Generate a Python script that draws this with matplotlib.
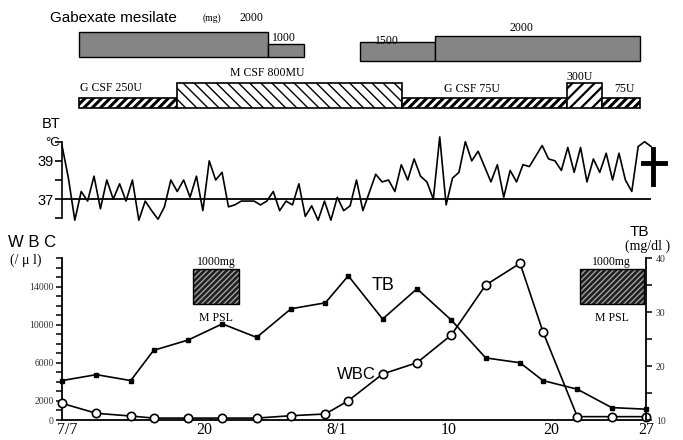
import numpy as np
import matplotlib
matplotlib.use("Agg")
import matplotlib.pyplot as plt
from matplotlib.patches import Rectangle
from matplotlib.lines import Line2D

W, H = 683, 440
SERIF = "Liberation Serif"
SANS = "Liberation Sans"

# treatment schedule, days from 7/7
gab_start = [1.5, 18.0, 26.0, 32.6]
gab_end = [18.0, 21.1, 32.6, 50.5]
gab_dose = [2000, 1000, 1500, 2000]

csf_start = [1.5, 10.0, 29.7, 44.1, 47.2]
csf_end = [10.0, 29.7, 44.1, 47.2, 50.5]
csf_labels = ["G CSF 250U", "M CSF 800MU", "G CSF 75U", "300U", "75U"]
csf_high = [False, True, False, True, False]

# body temperature (deg C)
bt = [39.8, 38.1, 35.9, 37.4, 36.9, 38.2, 36.5, 38.0, 37.0, 37.8, 36.9, 38.0,
      35.9, 36.9, 36.4, 35.95, 36.6, 38.0, 37.4, 38.0, 37.1, 38.2, 36.4, 39.0,
      38.0, 38.4, 36.6, 36.7, 36.9, 36.9, 36.9, 36.7, 36.9, 37.4, 36.4, 36.9,
      36.7, 37.8, 36.1, 36.65, 35.9, 36.9, 35.9, 37.1, 36.4, 36.65, 38.0, 36.4,
      37.35, 38.3, 37.9, 38.0, 37.4, 38.8, 38.0, 39.1, 38.2, 37.9, 37.0, 40.25,
      36.7, 38.1, 38.4, 40.0, 39.0, 39.5, 38.7, 37.9, 38.8, 37.1, 38.5, 37.9,
      38.8, 38.7, 39.25, 39.8, 39.1, 39.0, 38.5, 39.7, 38.4, 39.7, 37.9, 39.1,
      38.4, 39.4, 38.0, 39.4, 38.0, 37.4, 39.75, 40.0, 39.75]

# laboratory data
lab_days = [0, 3, 6, 8, 11, 14, 17, 20, 23, 25, 28, 31, 34, 37, 40, 42, 45, 48, 51]
tb = [17.3, 18.4, 17.3, 22.9, 24.8, 27.8, 25.3, 30.6, 31.7, 36.7,
      28.7, 34.3, 28.5, 21.5, 20.6, 17.3, 15.7, 12.3, 12.0]
wbc = [1750, 700, 420, 200, 200, 200, 200, 450, 630, 2020,
       4830, 6010, 8920, 14160, 16440, 9260, 350, 350, 350]

date_ticks = [0.5, 12.4, 24.0, 33.8, 42.7, 51]
date_labels = ["7/7", "20", "8/1", "10", "20", "27"]

mpsl_start = [11.4, 45.2]
mpsl_end = [15.5, 50.8]


def px_axes(x0, y0, x1, y1):
    return fig.add_axes([x0 / W, 1 - y1 / H, (x1 - x0) / W, (y1 - y0) / H])


def ftext(x, y, s, **kw):
    kw.setdefault("va", "center")
    fig.text(x / W, 1 - y / H, s, **kw)


fig = plt.figure(figsize=(W / 100, H / 100), dpi=100)

# ---- treatment bars ----
top = px_axes(62, 0, 646, 112)
top.set_xlim(0, 51)
top.set_ylim(112, 0)
top.axis("off")

for i, (s, e, d) in enumerate(zip(gab_start, gab_end, gab_dose)):
    base = 57 if i < 2 else 61
    h = d / 2000 * 25
    top.add_patch(Rectangle((s, base - h), e - s, h, fc="#858585", ec="black", lw=1.0))

ftext(50, 18, "Gabexate mesilate", family=SANS, fontsize=11)
ftext(203, 18, "(mg)", family=SERIF, fontsize=7)
ftext(240, 18, "2000", family=SERIF, fontsize=8.5)
ftext(272, 38, "1000", family=SERIF, fontsize=8.5)
ftext(375, 41, "1500", family=SERIF, fontsize=8.5)
ftext(510, 28, "2000", family=SERIF, fontsize=8.5)

hatches = ["////", "\\\\\\", "////", "///", "////"]
hatch_lw = [2.2, 1.0, 2.2, 1.6, 2.2]
for s, e, hi, hch, hlw in zip(csf_start, csf_end, csf_high, hatches, hatch_lw):
    h = 25 if hi else 10
    with plt.rc_context({"hatch.linewidth": hlw}):
        p = Rectangle((s, 108 - h), e - s, h, fc="white", ec="black", lw=1.2, hatch=hch)
        if hasattr(p, "set_hatch_linewidth"):
            p.set_hatch_linewidth(hlw)
        top.add_patch(p)

csf_text_pos = [(80, 88), (230, 73), (444, 89), (566, 77), (614, 89)]
for (x, y), lab in zip(csf_text_pos, csf_labels):
    ftext(x, y, lab, family=SERIF, fontsize=8.5)

# ---- body temperature ----
axb = px_axes(62, 141.7, 651, 218.3)
t = np.linspace(0, 51, len(bt))
axb.plot(t, bt, color="black", lw=1.2, clip_on=False)
axb.axhline(37, color="black", lw=1.3)
axb.set_xlim(0, 51)
axb.set_ylim(36, 40)
for sp in ["top", "right", "bottom"]:
    axb.spines[sp].set_visible(False)
axb.spines["left"].set_linewidth(1.2)
axb.set_xticks([])
axb.set_yticks([36, 37, 38, 39, 40], ["", "37", "", "39", ""])
axb.tick_params(axis="y", direction="out", length=5, width=1.2, pad=1, labelsize=10.5)
for lab in axb.get_yticklabels():
    lab.set_family(SANS)
ftext(42, 124, "BT", family=SANS, fontsize=10.5)
ftext(45, 143, "\u00b0C", family=SANS, fontsize=9.5)

fig.add_artist(Line2D([653 / W, 653 / W], [1 - 149 / H, 1 - 184 / H],
                      color="black", lw=3.5, transform=fig.transFigure))
fig.add_artist(Line2D([643 / W, 665 / W], [1 - 163 / H, 1 - 163 / H],
                      color="black", lw=3.5, transform=fig.transFigure))

# ---- WBC / TB ----
ax = px_axes(62, 258, 646, 420)
ax2 = ax.twinx()
ax.set_xlim(0, 51)
ax.set_ylim(0, 17000)
ax2.set_ylim(10, 40)

ax.plot(lab_days, wbc, "-o", color="black", mfc="white", mec="black",
        ms=6, mew=1.2, lw=1.2, clip_on=False, zorder=3)
ax2.plot(lab_days, tb, "-s", color="black", ms=3, lw=1.2, clip_on=False)

for a in (ax, ax2):
    a.spines["top"].set_visible(False)
ax.spines["right"].set_visible(False)
ax2.spines["left"].set_visible(False)
ax2.spines["bottom"].set_visible(False)
for sp in ("left", "bottom"):
    ax.spines[sp].set_linewidth(1.3)
ax2.spines["right"].set_linewidth(1.3)

ax.set_xticks(date_ticks, date_labels)
ax.tick_params(axis="x", length=0, pad=1.5, labelsize=11.5)
ax.set_yticks([0, 2000, 6000, 10000, 14000], ["0", "2000", "6000", "10000", "14000"])
ax.set_yticks(np.arange(0, 17001, 1000), minor=True)
ax.tick_params(axis="y", which="both", direction="out", length=4, width=1.1,
               pad=2, labelsize=7, labelcolor="#333333")
ax2.set_yticks([10, 20, 30, 40], ["10", "20", "30", "40"])
ax2.set_yticks([15, 25, 35], minor=True)
ax2.tick_params(axis="y", which="both", direction="out", length=4, width=1.1,
                pad=3, labelsize=7, labelcolor="#333333")
for lab in ax.get_xticklabels() + ax.get_yticklabels() + ax2.get_yticklabels():
    lab.set_family(SERIF)

# M PSL pulses
for s, e in zip(mpsl_start, mpsl_end):
    with plt.rc_context({"hatch.linewidth": 1.0}):
        p = Rectangle((s, 12200), e - s, 3600, fc="#1e1e1e", ec="#a0a0a0", lw=0, hatch="//////")
        ax.add_patch(p)
    ax.add_patch(Rectangle((s, 12200), e - s, 3600, fc="none", ec="black", lw=1.0))
    ax.text((s + e) / 2, 16600, "1000mg", ha="center", va="center", family=SERIF, fontsize=8.5)
    ax.text((s + e) / 2, 10700, "M PSL", ha="center", va="center", family=SERIF, fontsize=8.5)

ftext(372, 285, "TB", family=SANS, fontsize=13)
ftext(337, 374, "WBC", family=SANS, fontsize=12)
ftext(8, 242, "W B C", family=SANS, fontsize=12)
ftext(10, 260, "(/ \u03bc l)", family=SERIF, fontsize=10)
ftext(639, 232, "TB", family=SANS, fontsize=11, ha="center")
ftext(648, 246, "(mg/dl )", family=SERIF, fontsize=10, ha="center")

fig.savefig("out.png", dpi=100)
